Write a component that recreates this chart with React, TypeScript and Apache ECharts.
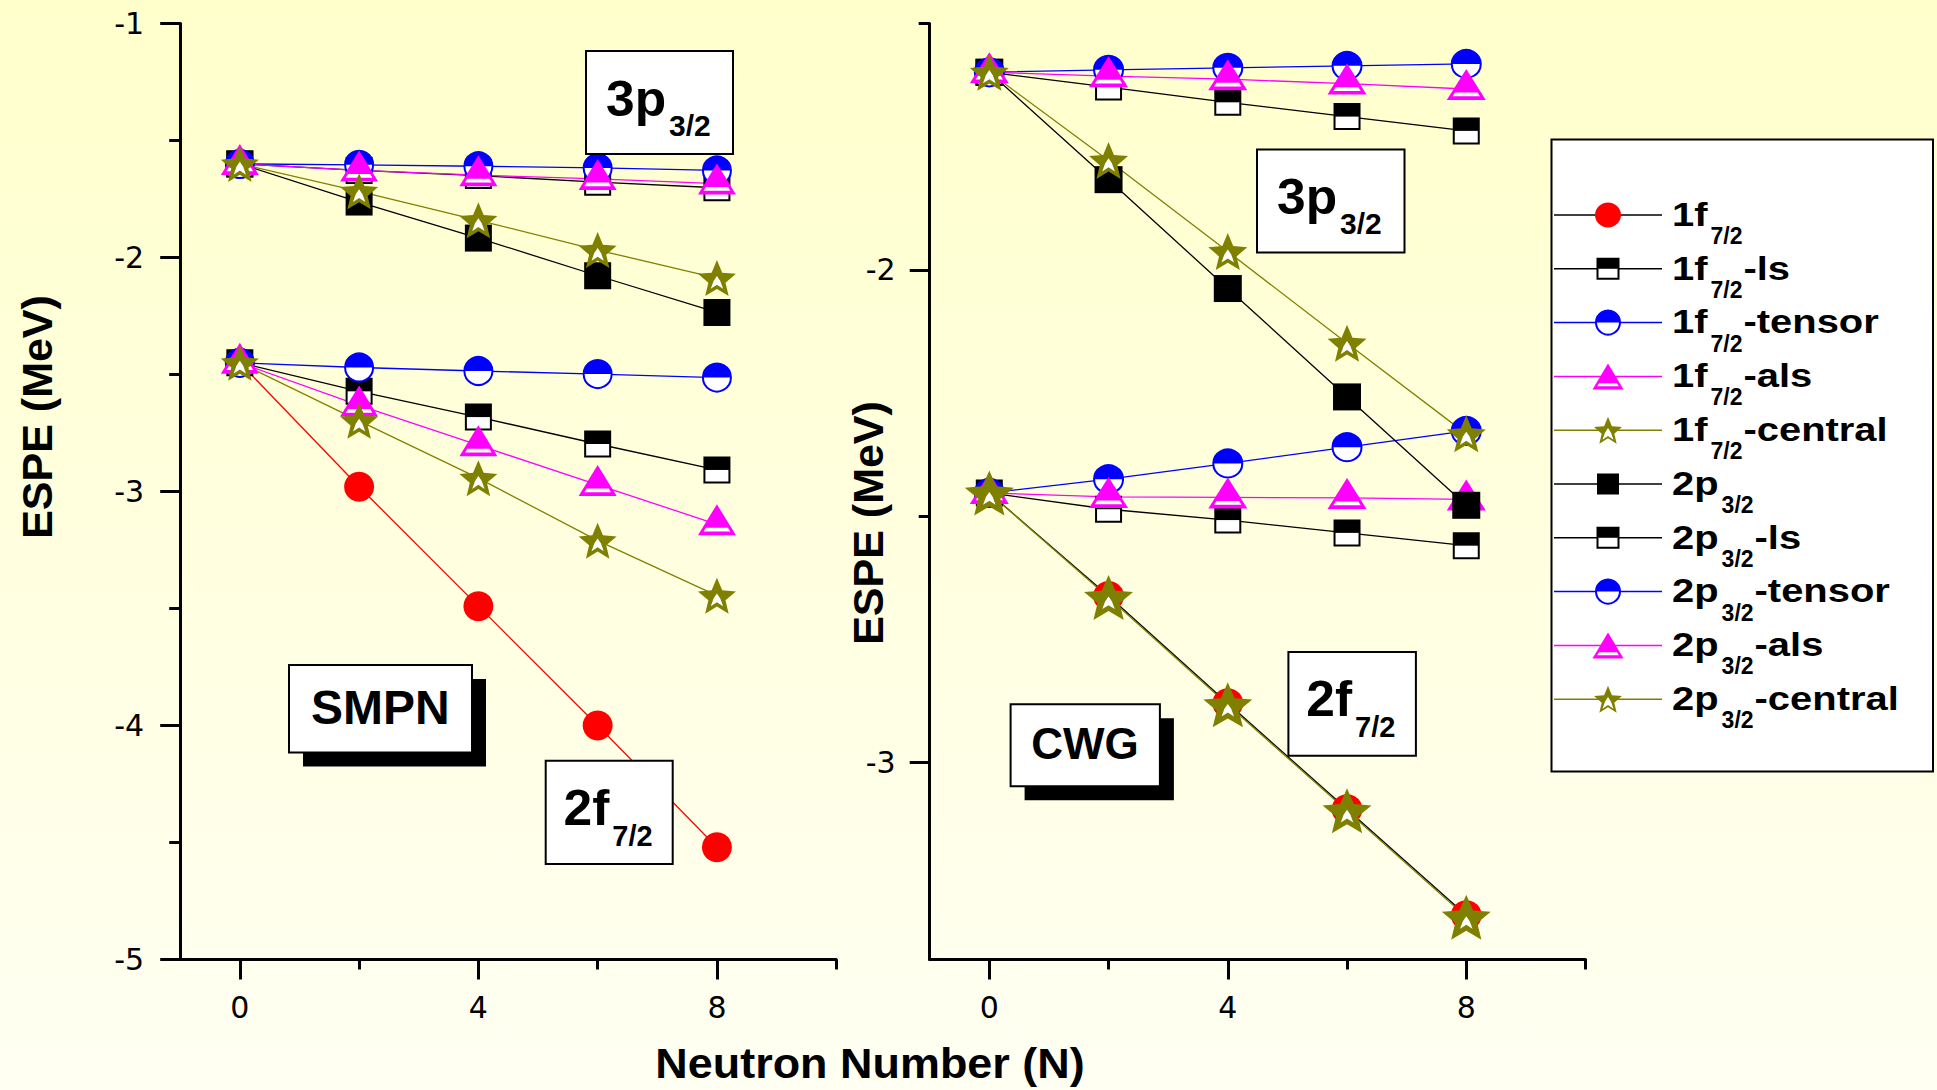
import React, { useEffect, useRef } from 'react';
import * as echarts from 'echarts';

// ---------------- data ----------------
const neutronN = [0, 2, 4, 6, 8];

// SMPN (left panel)
const smpn1f7 = [-2.45, -2.98, -3.49, -4.0, -4.52];
const smpn1f7Ls = [-2.45, -2.572, -2.682, -2.797, -2.908];
const smpn1f7Tensor = [-2.45, -2.47, -2.485, -2.498, -2.513];
const smpn1f7Als = [-2.45, -2.632, -2.802, -2.972, -3.14];
const smpn1f7Central = [-2.45, -2.698, -2.943, -3.21, -3.445];
const smpn2p3 = [-1.6, -1.763, -1.917, -2.078, -2.235];
const smpn2p3Ls = [-1.6, -1.628, -1.65, -1.678, -1.702];
const smpn2p3Tensor = [-1.6, -1.604, -1.61, -1.617, -1.628];
const smpn2p3Als = [-1.6, -1.628, -1.648, -1.664, -1.684];
const smpn2p3Central = [-1.6, -1.717, -1.841, -1.968, -2.088];

// CWG (right panel)
const cwg1f7 = [-2.453, -2.662, -2.88, -3.095, -3.31];
const cwg1f7Ls = [-2.453, -2.486, -2.508, -2.534, -2.56];
const cwg1f7Tensor = [-2.453, -2.425, -2.393, -2.36, -2.327];
const cwg1f7Als = [-2.453, -2.461, -2.462, -2.463, -2.466];
const cwg1f7Central = [-2.453, -2.665, -2.883, -3.098, -3.314];
const cwg2p3 = [-1.599, -1.817, -2.038, -2.258, -2.478];
const cwg2p3Ls = [-1.599, -1.629, -1.66, -1.689, -1.718];
const cwg2p3Tensor = [-1.599, -1.594, -1.59, -1.586, -1.582];
const cwg2p3Als = [-1.599, -1.607, -1.613, -1.622, -1.633];
const cwg2p3Central = [-1.599, -1.778, -1.963, -2.149, -2.333];

// ticks
const xMajorTicks = [0, 4, 8];
const xMinorTicks = [2, 6, 10];
const smpnYMajor = [-5, -4, -3, -2, -1];
const smpnYMinor = [-4.5, -3.5, -2.5, -1.5];
const cwgYMajor = [-3, -2];
const cwgYMinor = [-2.5, -1.5];

// series / legend labels: [main, subscript, tail]
const seriesLabels: [string, string, string][] = [
  ['1f', '7/2', ''],
  ['1f', '7/2', '-ls'],
  ['1f', '7/2', '-tensor'],
  ['1f', '7/2', '-als'],
  ['1f', '7/2', '-central'],
  ['2p', '3/2', ''],
  ['2p', '3/2', '-ls'],
  ['2p', '3/2', '-tensor'],
  ['2p', '3/2', '-als'],
  ['2p', '3/2', '-central'],
];

// ---------------- styles ----------------
const FONT = '"Liberation Sans", Arial, Helvetica, sans-serif';
const TICK_FONT = '"DejaVu Sans", "Liberation Sans", sans-serif';
const RED = '#FF0000';
const BLACK = '#000000';
const BLUE = '#0000FF';
const MAGENTA = '#FF00FF';
const OLIVE = '#808000';

type Kind = 'circle' | 'square' | 'halfSquare' | 'halfCircle' | 'triangle' | 'star';
const seriesKinds: Kind[] = ['circle', 'halfSquare', 'halfCircle', 'triangle', 'star', 'square', 'halfSquare', 'halfCircle', 'triangle', 'star'];
const seriesColors = [RED, BLACK, BLUE, MAGENTA, OLIVE, BLACK, BLACK, BLUE, MAGENTA, OLIVE];
const leftLineColors = [RED, BLACK, BLUE, MAGENTA, OLIVE, BLACK, BLACK, BLUE, MAGENTA, OLIVE];
const rightLineColors = [BLACK, BLACK, BLUE, MAGENTA, OLIVE, BLACK, BLACK, BLUE, MAGENTA, OLIVE];
const leftSizes: [number, number][] = [[30, 30], [25, 25], [28, 28], [38, 31], [38, 36], [27, 27], [25, 25], [28, 28], [38, 31], [38, 36]];
const rightSizes: [number, number][] = [[31, 30], [25, 25], [29, 28], [39, 31], [49, 45], [28, 27], [25, 25], [29, 28], [39, 31], [39, 37]];
const TRI_SHIFT = -4.5;

// five-pointed star, inner radius 0.45 (bbox x ±0.951, y -1 … 0.809)
const STAR_PTS = [[0, -1], [0.2645, -0.364], [0.951, -0.309], [0.428, 0.139], [0.5878, 0.809], [0, 0.45], [-0.5878, 0.809], [-0.428, 0.139], [-0.951, -0.309], [-0.2645, -0.364]];
const STAR_FULL = 'path://' + STAR_PTS.map((p, i) => `${i ? 'L' : 'M'}${p[0]},${p[1]}`).join('') + 'Z';
// white inner chevron of the half-filled star (bbox: w 0.88, h 0.92, centre y 0.10)
const STAR_HOLE_PTS = [[0, -0.36], [0.24, 0], [0.44, 0.56], [0, 0.27], [-0.44, 0.56], [-0.24, 0]];
const STAR_HOLE = 'path://' + STAR_HOLE_PTS.map((p, i) => `${i ? 'L' : 'M'}${p[0]},${p[1]}`).join('') + 'Z';
// white band of the half-filled triangle (bbox: w 0.70, h 0.12)
const TRI_BAND = 'path://M-0.29,0.76L0.29,0.76L0.35,0.88L-0.35,0.88Z';
const SEMI = 'path://M0,10C0,4.477 4.477,0 10,0C15.523,0 20,4.477 20,10Z';

// ---------------- helpers ----------------
let measureCtx: CanvasRenderingContext2D | null = null;
function measure(text: string, size: number, bold = true): number {
  if (!measureCtx) measureCtx = document.createElement('canvas').getContext('2d');
  if (!measureCtx) return text.length * size * 0.55;
  measureCtx.font = `${bold ? 'bold ' : ''}${size}px ${FONT}`;
  return measureCtx.measureText(text).width;
}

function textEl(text: string, x: number, baseline: number, size: number, opts: { align?: string; scaleX?: number; bold?: boolean } = {}) {
  const align = opts.align || 'left';
  return {
    type: 'text',
    x,
    y: baseline - 0.3465 * size,
    scaleX: opts.scaleX || 1,
    z: 100,
    silent: true,
    style: {
      text,
      fill: '#000',
      font: `${opts.bold === false ? '' : 'bold '}${size}px ${FONT}`,
      textAlign: align,
      align,
      textVerticalAlign: 'middle',
      verticalAlign: 'middle',
    },
  };
}

function subLabel(x0: number, base: number, main: string, sub: string, tail: string, mainSize: number, subSize: number, subDrop: number, scaleX: number, gap: number) {
  const wMain = measure(main, mainSize) * scaleX;
  const wSub = measure(sub, subSize);
  const els: any[] = [textEl(main, x0, base, mainSize, { scaleX }), textEl(sub, x0 + wMain + gap, base + subDrop, subSize)];
  if (tail) els.push(textEl(tail, x0 + wMain + gap + wSub + 1, base, mainSize, { scaleX }));
  return els;
}

function markerSeries(gi: number, vals: number[], kind: Kind, color: string, size: [number, number], name: string) {
  const data = neutronN.map((n, i) => [n, vals[i]]);
  const base: any = { type: 'scatter', name, xAxisIndex: gi * 2, yAxisIndex: gi * 2, data, z: 3, silent: true, clip: false, animation: false };
  const [w, h] = size;
  const solid = (c: string) => ({ color: c, opacity: 1 });
  const outline = (c: string, bw: number) => ({ color: '#ffffff', borderColor: c, borderWidth: bw, opacity: 1 });
  switch (kind) {
    case 'circle':
      return [{ ...base, symbol: 'circle', symbolSize: [w, h], itemStyle: solid(color) }];
    case 'square':
      return [{ ...base, symbol: 'rect', symbolSize: [w, h], itemStyle: solid(color) }];
    case 'halfSquare':
      return [
        { ...base, symbol: 'rect', symbolSize: [w, h], itemStyle: outline(color, 2) },
        { ...base, symbol: 'rect', symbolSize: [w, h / 2], symbolOffset: [0, -h / 4], itemStyle: solid(color) },
      ];
    case 'halfCircle':
      return [
        { ...base, symbol: 'circle', symbolSize: [w, h], itemStyle: outline(color, 2) },
        { ...base, symbol: SEMI, symbolSize: [w, h / 2], symbolOffset: [0, -h / 4], itemStyle: solid(color) },
      ];
    case 'triangle':
      return [
        { ...base, symbol: 'triangle', symbolSize: [w, h], symbolOffset: [0, TRI_SHIFT], itemStyle: solid(color) },
        { ...base, symbol: TRI_BAND, symbolSize: [w * 0.7, h * 0.12], symbolOffset: [0, TRI_SHIFT + h * 0.32], itemStyle: solid('#ffffff') },
      ];
    case 'star':
    default: {
      const k = w > 44 ? 0.55 : 0.7;
      return [
        { ...base, symbol: STAR_FULL, symbolSize: [w, h], itemStyle: solid(color) },
        { ...base, symbol: STAR_HOLE, symbolSize: [(w * 0.88 * k) / 1.902, (h * 0.92 * k) / 1.809], symbolOffset: [0, h * 0.12], itemStyle: solid('#ffffff') },
      ];
    }
  }
}

function starPoly(pts: number[][], cx: number, cy: number, w: number, h: number, k = 1, dy = 0) {
  return pts.map(([x, y]) => [cx + ((x * k) / 1.902) * w, cy + dy + ((y * k + 0.0955) / 1.809) * h]);
}

function legendMarker(kind: Kind, color: string, cx: number, cy: number): any[] {
  const z = 102;
  switch (kind) {
    case 'circle':
      return [{ type: 'ellipse', z, silent: true, shape: { cx, cy, rx: 13, ry: 12.5 }, style: { fill: color } }];
    case 'square':
      return [{ type: 'rect', z, silent: true, shape: { x: cx - 11, y: cy - 10.5, width: 22, height: 21 }, style: { fill: color } }];
    case 'halfSquare':
      return [
        { type: 'rect', z, silent: true, shape: { x: cx - 10.5, y: cy - 10, width: 21, height: 20 }, style: { fill: '#fff', stroke: color, lineWidth: 2 } },
        { type: 'rect', z: z + 1, silent: true, shape: { x: cx - 10.5, y: cy - 10, width: 21, height: 10 }, style: { fill: color } },
      ];
    case 'halfCircle': {
      const r = 12;
      const pts: number[][] = [];
      for (let a = 0; a <= 32; a++) {
        const t = Math.PI + (a * Math.PI) / 32;
        pts.push([cx + r * Math.cos(t), cy + r * Math.sin(t)]);
      }
      return [
        { type: 'circle', z, silent: true, shape: { cx, cy, r }, style: { fill: '#fff', stroke: color, lineWidth: 2 } },
        { type: 'polygon', z: z + 1, silent: true, shape: { points: pts }, style: { fill: color } },
      ];
    }
    case 'triangle': {
      const w = 31, h = 26;
      const top = cy - h / 2;
      const band = [[-0.29, 0.76], [0.29, 0.76], [0.35, 0.88], [-0.35, 0.88]].map(([x, t]) => [cx + x * w, top + t * h]);
      return [
        { type: 'polygon', z, silent: true, shape: { points: [[cx, top], [cx + w / 2, cy + h / 2], [cx - w / 2, cy + h / 2]] }, style: { fill: color } },
        { type: 'polygon', z: z + 1, silent: true, shape: { points: band }, style: { fill: '#fff' } },
      ];
    }
    case 'star':
    default: {
      const w = 28, h = 27;
      return [
        { type: 'polygon', z, silent: true, shape: { points: starPoly(STAR_PTS, cx, cy, w, h) }, style: { fill: color } },
        { type: 'polygon', z: z + 1, silent: true, shape: { points: starPoly(STAR_HOLE_PTS, cx, cy, w, h, 0.85, 1) }, style: { fill: '#fff' } },
      ];
    }
  }
}

function boxEl(x: number, y: number, w: number, h: number, shadow = false): any[] {
  const els: any[] = [];
  if (shadow) els.push({ type: 'rect', z: 98, silent: true, shape: { x: x + 14, y: y + 14, width: w, height: h }, style: { fill: '#000' } });
  els.push({ type: 'rect', z: 99, silent: true, shape: { x, y, width: w, height: h }, style: { fill: '#fff', stroke: '#000', lineWidth: 2 } });
  return els;
}

function buildOption(): any {
  const leftSets = [smpn1f7, smpn1f7Ls, smpn1f7Tensor, smpn1f7Als, smpn1f7Central, smpn2p3, smpn2p3Ls, smpn2p3Tensor, smpn2p3Als, smpn2p3Central];
  const rightSets = [cwg1f7, cwg1f7Ls, cwg1f7Tensor, cwg1f7Als, cwg1f7Central, cwg2p3, cwg2p3Ls, cwg2p3Tensor, cwg2p3Als, cwg2p3Central];
  const panels = [
    { sets: leftSets, sizes: leftSizes, lineColors: leftLineColors },
    { sets: rightSets, sizes: rightSizes, lineColors: rightLineColors },
  ];
  const names = seriesLabels.map((l) => l.join(''));
  const series: any[] = [];
  panels.forEach((p, gi) => {
    p.sets.forEach((vals, si) => {
      series.push({
        type: 'line', name: names[si], xAxisIndex: gi * 2, yAxisIndex: gi * 2,
        data: neutronN.map((n, i) => [n, vals[i]]),
        symbol: 'none', showSymbol: false,
        lineStyle: { color: p.lineColors[si], width: 1.3, opacity: 1 },
        z: 2, silent: true, animation: false,
      });
    });
  });
  panels.forEach((p, gi) => {
    p.sets.forEach((vals, si) => {
      series.push(...markerSeries(gi, vals, seriesKinds[si], seriesColors[si], p.sizes[si], names[si]));
    });
  });

  const axisLine = { show: true, onZero: false, lineStyle: { color: '#000', width: 3 } };
  const tickStyle = { color: '#000', width: 3 };
  const labelStyle = { color: '#000', fontSize: 30, fontFamily: TICK_FONT };

  const xAxis: any[] = [];
  [0, 1].forEach((g) => {
    xAxis.push({
      gridIndex: g, type: 'value', min: -1, max: 10, position: 'bottom',
      axisLine,
      axisTick: { show: true, inside: false, length: 20, customValues: xMajorTicks, lineStyle: tickStyle },
      axisLabel: { show: true, customValues: xMajorTicks, margin: 33, ...labelStyle },
      splitLine: { show: false },
    });
    xAxis.push({
      gridIndex: g, type: 'value', min: -1, max: 10, position: 'bottom',
      axisLine: { show: false, onZero: false },
      axisTick: { show: true, inside: false, length: 10, customValues: xMinorTicks, lineStyle: tickStyle },
      axisLabel: { show: false, customValues: xMinorTicks },
      splitLine: { show: false },
    });
  });

  const yDefs = [
    { min: -5, max: -1, major: smpnYMajor, minor: smpnYMinor, margin: 36 },
    { min: -3.4, max: -1.5, major: cwgYMajor, minor: cwgYMinor, margin: 34 },
  ];
  const yAxis: any[] = [];
  yDefs.forEach((d, g) => {
    yAxis.push({
      gridIndex: g, type: 'value', min: d.min, max: d.max, position: 'left',
      axisLine,
      axisTick: { show: true, inside: false, length: 20, customValues: d.major, lineStyle: tickStyle },
      axisLabel: { show: true, customValues: d.major, margin: d.margin, ...labelStyle },
      splitLine: { show: false },
    });
    yAxis.push({
      gridIndex: g, type: 'value', min: d.min, max: d.max, position: 'left',
      axisLine: { show: false, onZero: false },
      axisTick: { show: true, inside: false, length: 11, customValues: d.minor, lineStyle: tickStyle },
      axisLabel: { show: false, customValues: d.minor },
      splitLine: { show: false },
    });
  });

  const g: any[] = [];
  // axis titles
  g.push({ type: 'text', x: 36.5, y: 417, rotation: Math.PI / 2, z: 100, silent: true,
    style: { text: 'ESPE (MeV)', fill: '#000', font: `bold 43px ${FONT}`, textAlign: 'center', align: 'center', textVerticalAlign: 'middle', verticalAlign: 'middle' } });
  g.push({ type: 'text', x: 868, y: 523, rotation: Math.PI / 2, z: 100, silent: true,
    style: { text: 'ESPE (MeV)', fill: '#000', font: `bold 43px ${FONT}`, textAlign: 'center', align: 'center', textVerticalAlign: 'middle', verticalAlign: 'middle' } });
  g.push({ type: 'text', x: 870, y: 1063, scaleX: 1.045, z: 100, silent: true,
    style: { text: 'Neutron Number (N)', fill: '#000', font: `bold 43px ${FONT}`, textAlign: 'center', align: 'center', textVerticalAlign: 'middle', verticalAlign: 'middle' } });

  // annotation boxes
  g.push(...boxEl(586, 51, 147, 103));
  g.push(...subLabel(606, 116, '3p', '3/2', '', 50, 30, 20, 1.03, 3));
  g.push(...boxEl(1257, 149.5, 147.5, 103));
  g.push(...subLabel(1277, 214.3, '3p', '3/2', '', 50, 30, 20, 1.03, 3));
  g.push(...boxEl(545.7, 760.7, 127, 103.3));
  g.push(...subLabel(563.5, 825, '2f', '7/2', '', 50, 29, 21, 1.03, 3));
  g.push(...boxEl(1288.4, 652, 127.5, 103.7));
  g.push(...subLabel(1306.3, 716.4, '2f', '7/2', '', 50, 29, 21, 1.03, 3));
  g.push(...boxEl(289, 665, 183, 87.5, true));
  g.push(textEl('SMPN', 380.4, 724, 48, { align: 'center' }));
  g.push(...boxEl(1010.6, 704.3, 149.3, 82, true));
  g.push(textEl('CWG', 1085, 758.6, 44, { align: 'center' }));

  // legend
  g.push({ type: 'rect', z: 99, silent: true, shape: { x: 1551.5, y: 139.5, width: 381.5, height: 632 }, style: { fill: '#fff', stroke: '#000', lineWidth: 2 } });
  seriesLabels.forEach((lab, i) => {
    const y = 215 + i * 53.8;
    g.push({ type: 'line', z: 101, silent: true, shape: { x1: 1554, y1: y, x2: 1662, y2: y }, style: { stroke: rightLineColors[i], lineWidth: 1.5 } });
    g.push(...legendMarker(seriesKinds[i], seriesColors[i], 1608, y));
    g.push(...subLabel(1672, y + 11, lab[0], lab[1], lab[2], 33, 23, 18, 1.21, 3));
  });

  return {
    animation: false,
    backgroundColor: 'transparent',
    tooltip: { show: false },
    grid: [
      { left: 180.2, top: 23.5, width: 656, height: 936, containLabel: false, outerBoundsMode: 'none' },
      { left: 929.7, top: 23.5, width: 655.8, height: 936, containLabel: false, outerBoundsMode: 'none' },
    ],
    xAxis,
    yAxis,
    series,
    graphic: { elements: g },
  };
}

export default function App() {
  const ref = useRef<HTMLDivElement>(null);
  useEffect(() => {
    if (!ref.current) return;
    const chart = echarts.init(ref.current, undefined, { renderer: 'svg' });
    chart.setOption(buildOption());
    return () => chart.dispose();
  }, []);
  return (
    <div
      ref={ref}
      style={{
        position: 'absolute', left: 0, top: 0, width: 1937, height: 1090,
        background: 'linear-gradient(180deg, #FFFFCC 0%, #FFFFF3 100%)',
      }}
    />
  );
}
